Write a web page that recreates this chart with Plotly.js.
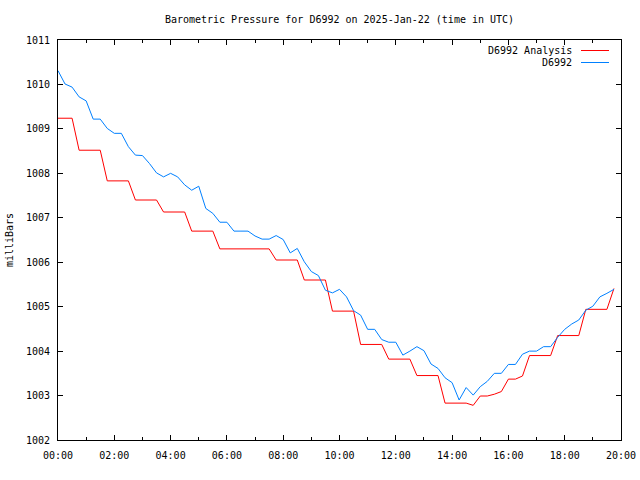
<!DOCTYPE html>
<html>
<head>
<meta charset="utf-8">
<script src="https://cdn.plot.ly/plotly-3.0.1.min.js"></script>
<style>html,body{margin:0;padding:0;background:#fff;}#chart{width:640px;height:480px;}</style>
</head>
<body>
<div id="chart"></div>
<script>
// Time of day in hours (UTC)
const hours = [
  0, 0.25, 0.5, 0.75, 1, 1.25, 1.5, 1.75, 2, 2.25, 2.5, 2.75, 3, 3.25, 3.5, 3.75,
  4, 4.25, 4.5, 4.75, 5, 5.25, 5.5, 5.75, 6, 6.25, 6.5, 6.75, 7, 7.25, 7.5, 7.75,
  8, 8.25, 8.5, 8.75, 9, 9.25, 9.5, 9.75, 10, 10.25, 10.5, 10.75, 11, 11.25, 11.5, 11.75,
  12, 12.25, 12.5, 12.75, 13, 13.25, 13.5, 13.75, 14, 14.25, 14.5, 14.75, 15, 15.25, 15.5, 15.75,
  16, 16.25, 16.5, 16.75, 17, 17.25, 17.5, 17.75, 18, 18.25, 18.5, 18.75, 19, 19.25, 19.5, 19.75
];

// Station observations (D6992), milliBars
const observed = [
  1010.31, 1010.01, 1009.94, 1009.72, 1009.63, 1009.22, 1009.22, 1009.01,
  1008.90, 1008.90, 1008.60, 1008.41, 1008.40, 1008.22, 1008.01, 1007.92,
  1008.00, 1007.92, 1007.74, 1007.62, 1007.71, 1007.21, 1007.10, 1006.90,
  1006.90, 1006.70, 1006.70, 1006.70, 1006.59, 1006.52, 1006.52, 1006.60,
  1006.51, 1006.21, 1006.31, 1006.01, 1005.79, 1005.70, 1005.37, 1005.31,
  1005.39, 1005.22, 1004.91, 1004.81, 1004.49, 1004.49, 1004.26, 1004.20,
  1004.20, 1003.91, 1004.00, 1004.10, 1004.01, 1003.71, 1003.61, 1003.40,
  1003.29, 1002.90, 1003.18, 1003.01, 1003.20, 1003.32, 1003.50, 1003.50,
  1003.70, 1003.70, 1003.93, 1004.00, 1004.00, 1004.10, 1004.10, 1004.31,
  1004.49, 1004.61, 1004.70, 1004.92, 1005.01, 1005.22, 1005.30, 1005.39
];

// Analysis values (D6992 Analysis), milliBars
const analysis = [
  1009.24, 1009.24, 1009.24, 1008.52, 1008.52, 1008.52, 1008.52, 1007.83,
  1007.83, 1007.83, 1007.83, 1007.40, 1007.40, 1007.40, 1007.40, 1007.13,
  1007.13, 1007.13, 1007.13, 1006.70, 1006.70, 1006.70, 1006.70, 1006.30,
  1006.30, 1006.30, 1006.30, 1006.30, 1006.30, 1006.30, 1006.30, 1006.05,
  1006.05, 1006.05, 1006.05, 1005.60, 1005.60, 1005.60, 1005.60, 1004.90,
  1004.90, 1004.90, 1004.90, 1004.15, 1004.15, 1004.15, 1004.15, 1003.82,
  1003.82, 1003.82, 1003.82, 1003.45, 1003.45, 1003.45, 1003.45, 1002.83,
  1002.83, 1002.83, 1002.83, 1002.78, 1002.99, 1002.99, 1003.03, 1003.09,
  1003.37, 1003.37, 1003.44, 1003.90, 1003.90, 1003.90, 1003.90, 1004.35,
  1004.35, 1004.35, 1004.35, 1004.94, 1004.94, 1004.94, 1004.94, 1005.41
];

const xTickVals = [0, 2, 4, 6, 8, 10, 12, 14, 16, 18, 20];
const xTickText = ["00:00", "02:00", "04:00", "06:00", "08:00", "10:00",
                   "12:00", "14:00", "16:00", "18:00", "20:00"];
const yTickVals = [1002, 1003, 1004, 1005, 1006, 1007, 1008, 1009, 1010, 1011];

const seriesNames = ["D6992 Analysis", "D6992"];
const seriesColors = ["#ff0000", "#0080ff"];

const FONT = "DejaVu Sans Mono, Liberation Mono, monospace";

const traces = [
  { x: hours, y: analysis, name: seriesNames[0], type: "scatter", mode: "lines",
    line: { color: seriesColors[0], width: 1 } },
  { x: hours, y: observed, name: seriesNames[1], type: "scatter", mode: "lines",
    line: { color: seriesColors[1], width: 1 } }
];

// gnuplot-style legend: text on the left, sample line on the right
const legendShapes = [];
const legendAnnots = [];
seriesNames.forEach((nm, i) => {
  const yPx = 50.5 + i * 12; // pixel row from top of figure
  const yPaper = 1 - (yPx - 40) / 400;
  legendAnnots.push({
    xref: "paper", yref: "paper", x: (574 - 58) / 563, y: yPaper,
    xanchor: "right", yanchor: "middle", showarrow: false, text: nm,
    font: { family: FONT, size: 10, color: "#000" }
  });
  legendShapes.push({
    type: "line", xref: "paper", yref: "paper",
    x0: (581 - 58) / 563, x1: (609 - 58) / 563, y0: yPaper, y1: yPaper,
    line: { color: seriesColors[i], width: 1 }
  });
});

const layout = {
  width: 640, height: 480,
  margin: { l: 58, r: 19, t: 40, b: 40, pad: 0 },
  paper_bgcolor: "#fff", plot_bgcolor: "#fff",
  font: { family: FONT, size: 10, color: "#000" },
  showlegend: false,
  title: {
    text: "Barometric Pressure for D6992 on 2025-Jan-22 (time in UTC)",
    x: 0.5, xref: "paper", y: 1 - 19 / 480, yref: "container",
    xanchor: "center", yanchor: "middle",
    font: { family: FONT, size: 10, color: "#000" }
  },
  xaxis: {
    range: [0, 20], tickmode: "array", tickvals: xTickVals, ticktext: xTickText,
    ticks: "inside", ticklen: 5, tickcolor: "#000", tickwidth: 1,
    showline: true, linecolor: "#000", linewidth: 1, mirror: "ticks",
    showgrid: false, zeroline: false, ticklabelstandoff: 6,
    tickfont: { family: FONT, size: 10, color: "#000" },
    minor: { dtick: 1, tick0: 0, ticks: "inside", ticklen: 3, tickcolor: "#000", showgrid: false }
  },
  yaxis: {
    range: [1002, 1011], tickmode: "array", tickvals: yTickVals,
    ticks: "inside", ticklen: 5, tickcolor: "#000", tickwidth: 1,
    showline: true, linecolor: "#000", linewidth: 1, mirror: "ticks",
    showgrid: false, zeroline: false, ticklabelstandoff: 5,
    tickfont: { family: FONT, size: 10, color: "#000" },
    title: { text: "milliBars", standoff: 10, font: { family: FONT, size: 10, color: "#000" } }
  },
  shapes: legendShapes,
  annotations: legendAnnots
};

Plotly.newPlot("chart", traces, layout, { displayModeBar: false, staticPlot: true });
</script>
</body>
</html>
